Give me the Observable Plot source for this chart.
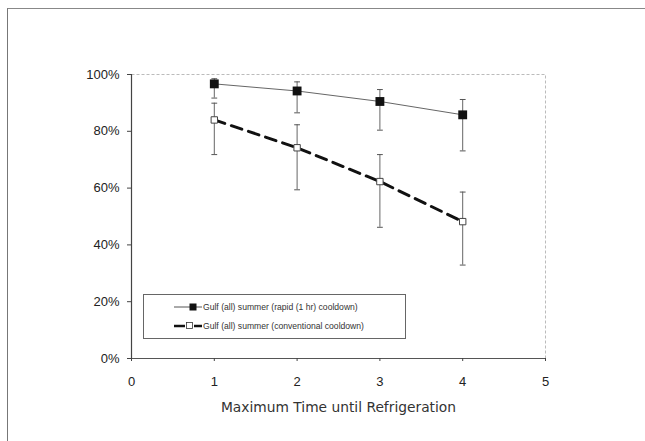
<!DOCTYPE html>
<html><head><meta charset="utf-8">
<script src="https://cdn.jsdelivr.net/npm/d3@7"></script>
<script src="https://cdn.jsdelivr.net/npm/@observablehq/plot@0.6"></script>
<style>
html,body{margin:0;padding:0;background:#fff;}
#wrap{position:relative;width:645px;height:441px;overflow:hidden;}
#border{position:absolute;left:7px;top:8px;width:650px;height:450px;border-left:1.5px solid #777;border-top:1.5px solid #888;}
#chart{position:absolute;left:0;top:0;}
#legend{position:absolute;left:143px;top:294px;width:261px;height:43px;border:1px solid #666;background:#fff;font-family:Arial,"Liberation Sans",sans-serif;font-size:8.6px;color:#333;}
.row{position:absolute;left:30px;display:flex;align-items:center;white-space:nowrap;}
</style></head>
<body><div id="wrap"><div id="border"></div><div id="chart"></div>
<div id="legend">
<div class="row" style="top:7px"><svg width="29" height="10"><line x1="0" y1="5" x2="28" y2="5" stroke="#555" stroke-width="1"/><rect x="15.5" y="1.5" width="7" height="7" fill="#111"/></svg><span>Gulf (all) summer (rapid (1 hr) cooldown)</span></div>
<div class="row" style="top:26px"><svg width="29" height="10"><line x1="0" y1="5" x2="11" y2="5" stroke="#111" stroke-width="2.5"/><line x1="20" y1="5" x2="28" y2="5" stroke="#111" stroke-width="2.5"/><rect x="12.5" y="1.5" width="6" height="6" fill="#fff" stroke="#333" stroke-width="0.8"/></svg><span>Gulf (all) summer (conventional cooldown)</span></div>
</div></div>
<script>
const hours = [1, 2, 3, 4];
const rapidMean = [0.967, 0.942, 0.905, 0.858];
const rapidHigh = [0.985, 0.974, 0.947, 0.912];
const rapidLow  = [0.917, 0.865, 0.804, 0.731];
const convMean  = [0.840, 0.742, 0.623, 0.482];
const convHigh  = [0.899, 0.823, 0.718, 0.586];
const convLow   = [0.718, 0.594, 0.462, 0.329];
const xTicks = [0, 1, 2, 3, 4, 5];
const yTicks = [0, 0.2, 0.4, 0.6, 0.8, 1.0];
const xLabel = "Maximum Time until Refrigeration";

const rapid = hours.map((h, i) => ({x: h, y: rapidMean[i], lo: rapidLow[i], hi: rapidHigh[i]}));
const conv = hours.map((h, i) => ({x: h, y: convMean[i], lo: convLow[i], hi: convHigh[i]}));
const capHalf = 0.035;
const caps = d => [...d.map(p => ({x1: p.x - capHalf, x2: p.x + capHalf, y: p.hi})), ...d.map(p => ({x1: p.x - capHalf, x2: p.x + capHalf, y: p.lo}))];

const chart = Plot.plot({
  width: 645, height: 441,
  marginLeft: 131, marginRight: 100, marginTop: 74, marginBottom: 83,
  style: {fontFamily: "Arial, 'Liberation Sans', sans-serif", background: "transparent", color: "#222"},
  x: {domain: [0, 5], ticks: xTicks, tickFormat: d => d, label: null},
  y: {domain: [0, 1], ticks: yTicks, tickFormat: d => Math.round(d * 100) + "%", label: null},
  marks: [
    Plot.frame({stroke: "#bbb", strokeDasharray: "3,2", strokeWidth: 1}),
    Plot.ruleX([0], {stroke: "#444", strokeWidth: 1.2}),
    Plot.ruleY([0], {stroke: "#555", strokeWidth: 1.2}),
    Plot.axisY({ticks: yTicks, tickFormat: d => Math.round(d * 100) + "%", tickSize: 4, tickPadding: 8, fontSize: 13, stroke: "#444", fill: "#222"}),
    Plot.axisX({ticks: xTicks, tickFormat: d => d, tickSize: 3, tickPadding: 15, fontSize: 13, stroke: "#444", fill: "#222", label: null}),
    Plot.axisX({ticks: [], label: xLabel, labelAnchor: "center", labelOffset: 53, labelArrow: "none", fontSize: 13.8, fontFamily: "DejaVu Sans", fill: "#333"}),
    Plot.ruleX(rapid, {x: "x", y1: "lo", y2: "hi", stroke: "#666", strokeWidth: 1}),
    Plot.link(caps(rapid), {x1: "x1", x2: "x2", y1: "y", y2: "y", stroke: "#555", strokeWidth: 1}),
    Plot.ruleX(conv, {x: "x", y1: "lo", y2: "hi", stroke: "#666", strokeWidth: 1}),
    Plot.link(caps(conv), {x1: "x1", x2: "x2", y1: "y", y2: "y", stroke: "#555", strokeWidth: 1}),
    Plot.line(rapid, {x: "x", y: "y", stroke: "#666", strokeWidth: 1}),
    Plot.line(conv, {x: "x", y: "y", stroke: "#111", strokeWidth: 3, strokeDasharray: "11,7"}),
    Plot.dot(rapid, {x: "x", y: "y", symbol: "square", r: 5, fill: "#111", stroke: "none"}),
    Plot.dot(conv, {x: "x", y: "y", symbol: "square", r: 3.6, fill: "#fff", stroke: "#444", strokeWidth: 1})
  ]
});
document.getElementById("chart").appendChild(chart);
</script></body></html>
